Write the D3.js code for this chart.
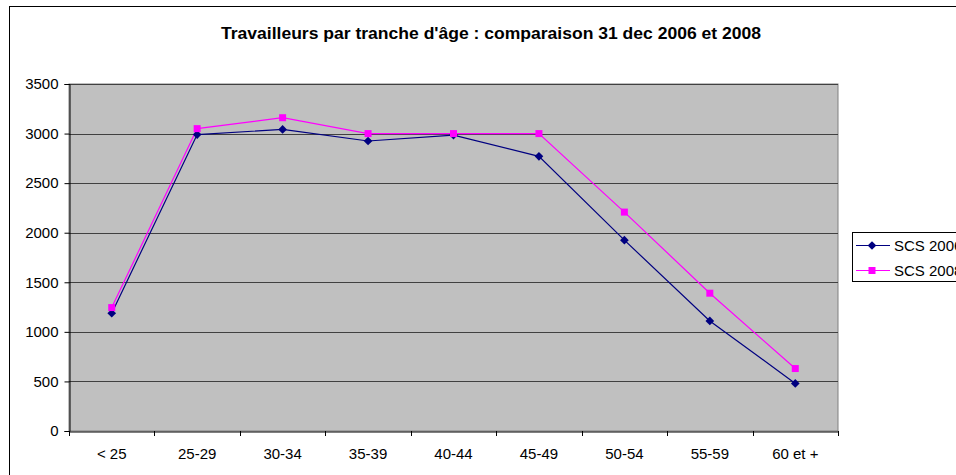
<!DOCTYPE html>
<html>
<head>
<meta charset="utf-8">
<script src="https://cdn.jsdelivr.net/npm/d3@7"></script>
<style>
html,body{margin:0;padding:0;background:#fff;overflow:hidden;}
svg{display:block;font-family:"Liberation Sans",Arial,sans-serif;}
</style>
</head>
<body>
<svg id="chart" width="956" height="475"></svg>
<script>
const categories = ["< 25","25-29","30-34","35-39","40-44","45-49","50-54","55-59","60 et +"];
const series2006 = [1188,2990,3042,2925,2985,2770,1925,1110,480];
const series2008 = [1245,3050,3160,3000,3000,3000,2208,1390,630];
const seriesNames = ["SCS 2006","SCS 2008"];
const yTicks = [0,500,1000,1500,2000,2500,3000,3500];
const title = "Travailleurs par tranche d'âge : comparaison 31 dec 2006 et 2008";

const svg = d3.select("#chart");
const plot = {left:69, right:838, top:84, bottom:431};

// outer chart border
svg.append("rect").attr("x",9.5).attr("y",6.5).attr("width",1000).attr("height",520)
  .attr("fill","#fff").attr("stroke","#000").attr("stroke-width",1);

svg.append("text").attr("x",491).attr("y",39).attr("text-anchor","middle")
  .attr("font-size",16.5).attr("font-weight","bold").attr("textLength",540)
  .attr("lengthAdjust","spacingAndGlyphs").text(title);

const x = d3.scaleBand().domain(categories).range([plot.left, plot.right]);
const y = d3.scaleLinear().domain([0,3500]).range([plot.bottom, plot.top]);

svg.append("rect").attr("x",plot.left).attr("y",plot.top)
  .attr("width",plot.right-plot.left).attr("height",plot.bottom-plot.top)
  .attr("fill","#c0c0c0").attr("stroke","#808080").attr("stroke-width",1);

// gridlines
svg.append("g").selectAll("line").data(yTicks.filter(d=>d>0)).join("line")
  .attr("x1",plot.left).attr("x2",plot.right)
  .attr("y1",d=>Math.round(y(d))+0.5).attr("y2",d=>Math.round(y(d))+0.5)
  .attr("stroke","#404040").attr("stroke-width",1.2);

// y axis
const yAxis = svg.append("g").attr("transform",`translate(${plot.left+0.5},0)`)
  .call(d3.axisLeft(y).tickValues(yTicks).tickSize(5).tickPadding(6).tickFormat(d3.format("d")));
yAxis.select(".domain").attr("stroke","#000");
yAxis.selectAll(".tick line").attr("stroke","#000");
yAxis.selectAll("text").attr("font-size",15).attr("fill","#000").attr("font-family","Liberation Sans, Arial, sans-serif");

// x axis
const xAxis = svg.append("g").attr("transform",`translate(0,${plot.bottom+0.5})`)
  .call(d3.axisBottom(x).tickSize(0).tickPadding(17));
xAxis.select(".domain").attr("stroke","#000");
xAxis.selectAll("text").attr("font-size",15).attr("fill","#000").attr("font-family","Liberation Sans, Arial, sans-serif");
// boundary ticks
const bounds = categories.map(c=>x(c)).concat([plot.right]);
svg.append("g").selectAll("line").data(bounds).join("line")
  .attr("x1",d=>Math.round(d)+0.5).attr("x2",d=>Math.round(d)+0.5)
  .attr("y1",plot.bottom).attr("y2",plot.bottom+5).attr("stroke","#000");

const cx = c => x(c) + x.bandwidth()/2;
const line = d3.line().x((d,i)=>cx(categories[i])).y(d=>y(d));

const colors = ["#000080","#ff00ff"];
const data = [series2006, series2008];
const diamond = d3.symbol().type(d3.symbolDiamond2).size(48);
const square = d3.symbol().type(d3.symbolSquare).size(49);

data.forEach((s,k)=>{
  svg.append("path").datum(s).attr("d",line).attr("fill","none")
    .attr("stroke",colors[k]).attr("stroke-width",1.2);
});
data.forEach((s,k)=>{
  svg.append("g").selectAll("path").data(s).join("path")
    .attr("transform",(d,i)=>`translate(${cx(categories[i])},${y(d)})`)
    .attr("d",k===0?diamond:square).attr("fill",colors[k]);
});

// legend
const lg = svg.append("g");
lg.append("rect").attr("x",852.5).attr("y",232.5).attr("width",200).attr("height",49)
  .attr("fill","#fff").attr("stroke","#000");
const ly = [245.5,270.5];
seriesNames.forEach((n,k)=>{
  lg.append("line").attr("x1",856).attr("x2",890).attr("y1",ly[k]).attr("y2",ly[k])
    .attr("stroke",colors[k]).attr("stroke-width",1.2);
  lg.append("path").attr("transform",`translate(872,${ly[k]})`)
    .attr("d",k===0?diamond:square).attr("fill",colors[k]);
  lg.append("text").attr("x",894).attr("y",ly[k]+5.5).attr("font-size",15).text(n);
});
</script>
</body>
</html>
